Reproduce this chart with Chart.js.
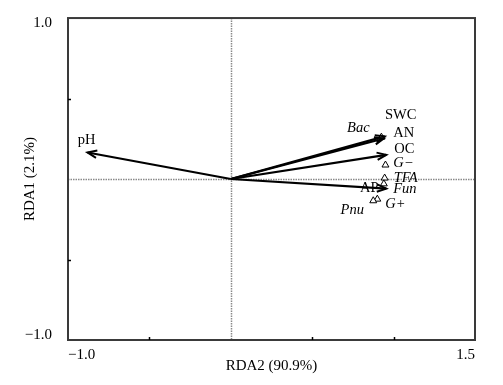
<!DOCTYPE html>
<html><head><meta charset="utf-8">
<script src="https://cdn.jsdelivr.net/npm/chart.js@4/dist/chart.umd.min.js"></script>
<style>html,body{margin:0;padding:0;background:#fff}#wrap{width:503px;height:385px}</style>
</head><body><div id="wrap"><canvas id="c" width="503" height="385"></canvas></div>
<script>
// ---- data ----
const envNames = ['pH', 'SWC', 'AN', 'OC', 'AP'];
const envX = [-0.88, 0.945, 0.94, 0.955, 0.955];
const envY = [0.165, 0.265, 0.252, 0.150, -0.060];
const sppNames = ['Bac', 'G−', 'TFA', 'Fun', 'G+', 'Pnu'];
const sppX = [0.925, 0.950, 0.945, 0.940, 0.900, 0.875];
const sppY = [0.260, 0.087, 0.006, -0.030, -0.125, -0.135];
const xTicks = [-1.0, -0.5, 0, 0.5, 1.0, 1.5];
const yTicks = [-1.0, -0.5, 0, 0.5, 1.0];
const xTitle = 'RDA2 (90.9%)';
const yTitle = 'RDA1 (2.1%)';

// ---- styling / label placement (pixels) ----
const FONT = "'Liberation Serif', 'Times New Roman', serif";
const envLabelOffset = {pH: [-1, -12], SWC: [16, -21], AN: [20, -5], OC: [18, -6], AP: [-17, 0]};
const sppLabelOffset = {'Bac': [-23, -9], 'G−': [18, -2], 'TFA': [21, 0], 'Fun': [21, 5], 'G+': [18, 5], 'Pnu': [-21, 9]};

const decor = {
  id: 'decor',
  beforeDatasetsDraw(chart) {
    const {ctx, chartArea: a, scales: {x, y}} = chart;
    ctx.save();
    // dotted zero lines
    ctx.strokeStyle = '#8a8a8a';
    ctx.lineWidth = 1.5;
    ctx.setLineDash([1.5, 1]);
    const x0 = Math.round(x.getPixelForValue(0)) + 0.5;
    const y0 = Math.round(y.getPixelForValue(0)) + 0.5;
    ctx.beginPath();
    ctx.moveTo(x0, a.top); ctx.lineTo(x0, a.bottom);
    ctx.moveTo(a.left, y0); ctx.lineTo(a.right, y0);
    ctx.stroke();
    ctx.setLineDash([]);
    // frame
    ctx.strokeStyle = '#3a3a3a';
    ctx.lineWidth = 2;
    ctx.strokeRect(a.left, a.top, a.right - a.left, a.bottom - a.top);
    // inward ticks
    ctx.strokeStyle = '#000';
    ctx.lineWidth = 1.5;
    ctx.beginPath();
    xTicks.forEach(v => {
      if (v === xTicks[0] || v === xTicks[xTicks.length - 1] || v === 0) return;
      const px = Math.round(x.getPixelForValue(v)) + 0.5;
      ctx.moveTo(px, a.bottom); ctx.lineTo(px, a.bottom - 3);
    });
    yTicks.forEach(v => {
      if (v === yTicks[0] || v === yTicks[yTicks.length - 1] || v === 0) return;
      const py = Math.round(y.getPixelForValue(v)) + 0.5;
      ctx.moveTo(a.left, py); ctx.lineTo(a.left + 3, py);
    });
    ctx.stroke();
    ctx.restore();
  },
  afterDatasetsDraw(chart) {
    const {ctx, scales: {x, y}} = chart;
    ctx.save();
    const ox = x.getPixelForValue(0), oy = y.getPixelForValue(0);
    // arrow heads
    ctx.strokeStyle = '#000';
    ctx.lineWidth = 2;
    ctx.lineJoin = 'miter';
    envNames.forEach((n, i) => {
      const tx = x.getPixelForValue(envX[i]), ty = y.getPixelForValue(envY[i]);
      const ang = Math.atan2(ty - oy, tx - ox);
      const L = 10, w = 0.38;
      ctx.beginPath();
      ctx.moveTo(tx - L * Math.cos(ang - w), ty - L * Math.sin(ang - w));
      ctx.lineTo(tx, ty);
      ctx.lineTo(tx - L * Math.cos(ang + w), ty - L * Math.sin(ang + w));
      ctx.stroke();
    });
    // labels
    ctx.fillStyle = '#000';
    ctx.textAlign = 'center';
    ctx.textBaseline = 'middle';
    ctx.font = '14.5px ' + FONT;
    envNames.forEach((n, i) => {
      const o = envLabelOffset[n] || [0, 0];
      ctx.fillText(n, x.getPixelForValue(envX[i]) + o[0], y.getPixelForValue(envY[i]) + o[1]);
    });
    ctx.font = 'italic 14.5px ' + FONT;
    sppNames.forEach((n, i) => {
      const o = sppLabelOffset[n] || [0, 0];
      ctx.fillText(n, x.getPixelForValue(sppX[i]) + o[0], y.getPixelForValue(sppY[i]) + o[1]);
    });
    ctx.restore();
  }
};

const datasets = [{
  type: 'scatter',
  label: 'species',
  data: sppX.map((v, i) => ({x: v, y: sppY[i]})),
  pointStyle: 'triangle',
  pointRadius: 4,
  backgroundColor: '#fff',
  borderColor: '#000',
  borderWidth: 1
}].concat(envNames.map((n, i) => ({
  type: 'line',
  label: n,
  data: [{x: 0, y: 0}, {x: envX[i], y: envY[i]}],
  borderColor: '#000',
  borderWidth: 2.2,
  pointRadius: 0,
  fill: false,
  tension: 0
})));

new Chart(document.getElementById('c'), {
  type: 'scatter',
  data: {datasets},
  options: {
    responsive: false,
    animation: false,
    devicePixelRatio: 1,
    layout: {padding: {top: 16, right: 28, left: 0, bottom: 0}},
    plugins: {legend: {display: false}, tooltip: {enabled: false}},
    scales: {
      x: {
        type: 'linear', min: -1, max: 1.5,
        afterBuildTicks: s => { s.ticks = xTicks.map(v => ({value: v})); },
        afterFit: s => { s.height = 45; },
        grid: {display: false},
        border: {display: false},
        ticks: {
          align: 'inner', padding: -2, maxRotation: 0, autoSkip: false,
          font: {family: FONT, size: 15}, color: '#000',
          callback: v => v === xTicks[0] ? '−1.0' : v === xTicks[xTicks.length - 1] ? '1.5' : ''
        },
        title: {display: true, text: xTitle, color: '#000', font: {family: FONT, size: 15}, padding: {top: 0, bottom: 10}}
      },
      y: {
        type: 'linear', min: -1, max: 1,
        afterBuildTicks: s => { s.ticks = yTicks.map(v => ({value: v})); },
        afterFit: s => { s.width = 68; },
        grid: {display: false},
        border: {display: false},
        ticks: {
          padding: 8, autoSkip: false,
          font: {family: FONT, size: 15, lineHeight: 0.67}, color: '#000',
          callback: v => v === 1 ? ['', '1.0'] : v === -1 ? ['−1.0', ''] : ''
        },
        title: {display: true, text: yTitle, color: '#000', font: {family: FONT, size: 15}, padding: {top: 21, bottom: 0}}
      }
    }
  },
  plugins: [decor]
});
</script>
</body></html>
